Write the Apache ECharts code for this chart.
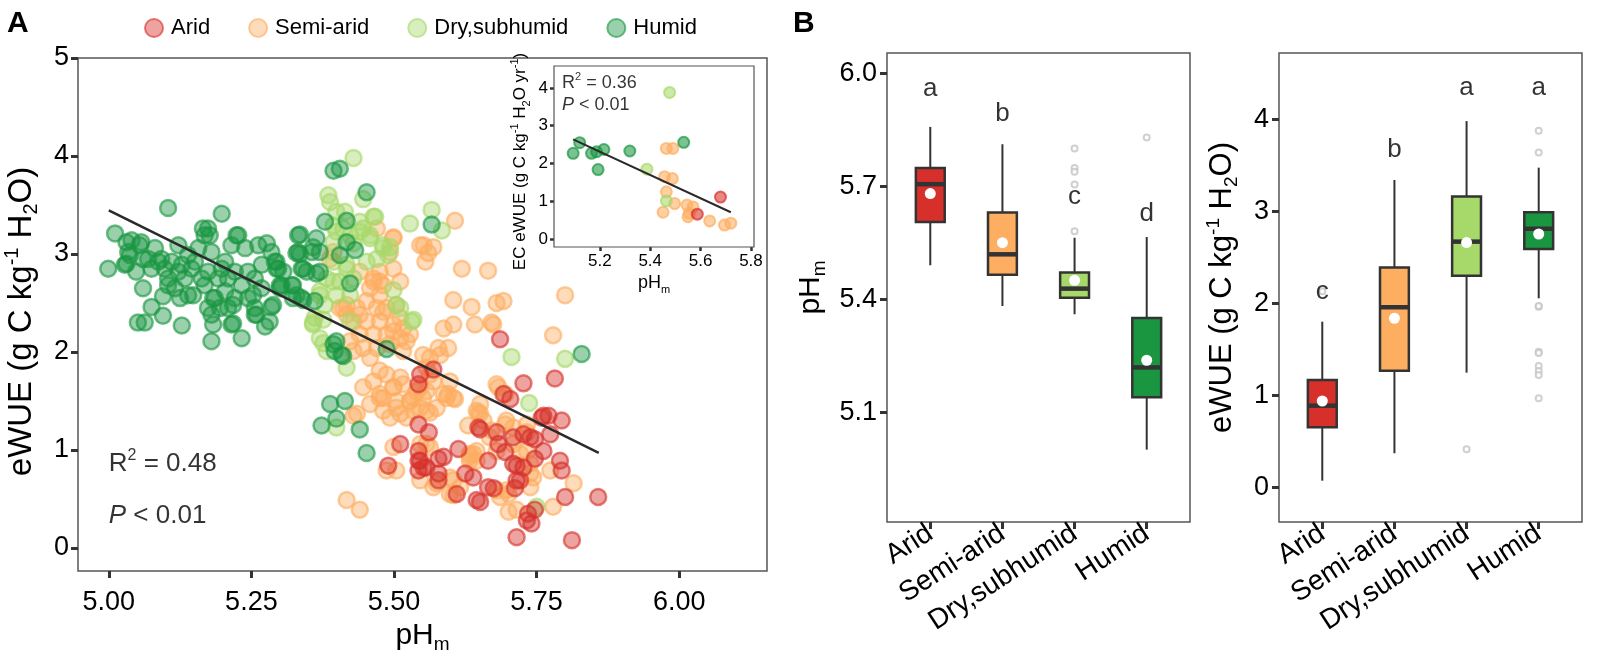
<!DOCTYPE html>
<html><head><meta charset="utf-8">
<script src="https://cdn.jsdelivr.net/npm/echarts@6/dist/echarts.min.js"></script>
<style>html,body{margin:0;padding:0;background:#fff}#c{width:1600px;height:656px}</style>
</head><body><div id="c"></div>
<script>
// ---------- DATA ----------
const groups = ['Arid', 'Semi-arid', 'Dry,subhumid', 'Humid'];
const groupColors = ['#d7302a', '#fdae61', '#a6d96a', '#1a9641'];
const groupRGB = ['215,48,42', '253,174,97', '166,217,106', '26,150,65'];

// Panel A main scatter: [pHm, eWUE]
const humidPts = [
[5.104,3.47],[5.198,3.41],[5.011,3.21],[4.999,2.85],[5.040,3.14],[5.057,3.12],[5.034,3.02],[5.031,2.90],[5.060,2.65],[5.075,2.46],[5.095,2.37],[5.051,2.30],[5.063,2.30],[5.128,2.27],[5.095,2.57],[5.081,3.06],[5.092,2.95],[5.075,2.85],[5.104,2.75],[5.116,2.65],[5.122,3.09],[5.139,2.99],[5.145,2.85],[5.139,2.58],[5.157,3.06],[5.168,3.19],[5.174,3.26],[5.180,3.02],[5.174,2.82],[5.168,2.68],[5.186,2.55],[5.174,2.45],[5.180,2.38],[5.183,2.28],[5.180,2.11],[5.204,2.62],[5.209,2.45],[5.218,2.29],[5.233,2.14],[5.215,3.09],[5.227,3.19],[5.239,3.06],[5.204,2.92],[5.221,2.82],[5.233,2.68],[5.244,2.55],[5.256,2.45],[5.256,2.38],[5.274,2.26],[5.285,2.46],[5.262,3.09],[5.277,3.11],[5.285,3.02],[5.291,2.92],[5.297,2.85],[5.268,2.89],[5.256,2.75],[5.268,2.65],[5.303,2.68],[5.321,2.68],[5.332,3.19],[5.332,3.02],[5.338,2.85],[5.338,2.55],
[5.069,2.95],[5.087,2.92],[5.098,2.85],[5.110,2.92],[5.122,2.82],[5.133,2.75],[5.104,2.68],[5.128,2.89],[5.151,2.92],[5.163,2.75],[5.192,2.75],[5.209,2.75],[5.244,2.82],[5.198,2.85],[5.221,2.55],
[5.031,3.12],[5.054,3.09],[5.037,2.99],[5.060,2.95],[5.028,2.89],[5.048,2.82],[5.165,3.26],[5.177,3.19],[5.224,3.19],[5.294,2.92],[5.306,2.82],[5.300,2.65],[5.259,2.38],[5.215,2.28],[5.125,2.55],[5.148,2.58],[5.183,2.55],[5.195,2.45],[5.218,2.48],[5.253,2.58],[5.323,2.68],
[5.335,3.20],[5.335,3.00],[5.356,3.02],[5.347,2.82],[5.364,3.16],[5.370,2.82],[5.323,2.55],[5.341,2.53],[5.361,2.52],[5.394,3.85],[5.405,3.87],[5.452,3.63],[5.379,3.33],[5.417,3.34],[5.432,3.04],[5.405,2.99],[5.417,3.12],[5.358,3.07],[5.329,3.01],[5.370,3.02],[5.341,2.85],[5.364,2.80],[5.294,2.85],[5.300,2.68],[5.288,2.48],[5.329,2.58],[5.423,2.70],[5.399,2.11],[5.408,1.97],[5.396,2.01],[5.487,2.03],[5.388,1.47],[5.414,1.50],[5.373,1.25],[5.399,1.32],[5.440,1.21],[5.452,0.97],[5.394,2.08],[5.411,1.96],[5.282,2.31],[5.566,3.30],[5.829,1.98]
];
const dryPts = [
[5.429,3.98],[5.385,3.60],[5.388,3.53],[5.446,3.56],[5.467,3.38],[5.528,3.31],[5.399,3.43],[5.394,3.29],[5.411,3.26],[5.440,3.23],[5.458,3.19],[5.481,3.09],[5.490,2.99],[5.394,2.92],[5.417,2.85],[5.499,2.63],[5.394,2.72],[5.370,2.58],[5.379,2.48],[5.361,2.35],[5.376,2.09],[5.511,2.45],[5.423,2.58],
[5.566,3.45],[5.584,3.24],[5.414,3.43],[5.464,3.38],[5.440,3.33],[5.399,3.23],[5.423,3.19],[5.446,3.26],[5.394,3.12],[5.429,3.11],[5.458,3.16],[5.481,3.06],[5.493,3.07],[5.417,2.89],[5.452,2.92],[5.470,2.95],[5.382,2.75],[5.405,2.72],[5.429,2.75],[5.399,2.58],[5.370,2.62],[5.358,2.28],[5.376,2.33],[5.370,2.14],[5.382,2.01],[5.417,1.84],[5.534,2.33],[5.504,2.48],[5.423,2.31],[5.358,2.30],[5.399,1.23],[5.531,2.31],[5.706,1.95],[5.800,1.93],[5.737,1.48],[5.750,0.42]
];
const semiPts = [
[5.607,3.34],[5.552,3.09],[5.569,3.07],[5.560,3.01],[5.555,2.92],[5.619,2.85],[5.665,2.83],[5.800,2.58],[5.604,2.53],[5.636,2.46],[5.692,2.52],[5.587,2.24],[5.604,2.28],[5.642,2.28],[5.674,2.28],[5.779,2.17],
[5.578,2.04],[5.595,2.04],[5.563,1.94],[5.680,1.67],[5.595,1.57],[5.607,1.52],[5.563,1.77],[5.546,1.64],[5.534,1.53],[5.511,1.74],[5.499,1.64],[5.481,1.53],[5.504,1.43],[5.528,1.50],[5.546,1.43],[5.563,1.38],[5.522,1.33],[5.493,1.33],[5.651,1.37],[5.630,1.25],[5.683,1.64],[5.695,1.57],[5.697,1.30],[5.709,1.23],[5.733,1.26],[5.499,1.03],[5.504,0.79],[5.557,1.06],[5.575,0.66],[5.598,0.72],[5.633,0.96],[5.645,0.99],[5.604,0.54],[5.680,0.59],[5.697,0.59],[5.701,0.37],[5.715,0.39],[5.733,0.99],[5.739,0.86],[5.744,0.72],[5.739,0.62],[5.779,0.42],[5.815,0.66],[5.774,0.79],[5.709,1.06],[5.721,0.96],[5.668,1.13],[5.680,0.99],[5.633,0.89],[5.651,1.47],[5.487,0.79],
[5.499,3.17],[5.493,3.02],[5.499,2.85],[5.470,3.26],[5.475,2.72],[5.458,2.65],[5.475,2.58],[5.680,2.50],[5.671,2.30],
[5.417,2.48],[5.435,2.45],[5.452,2.52],[5.470,2.45],[5.487,2.45],[5.504,2.48],[5.429,2.31],[5.452,2.31],[5.475,2.31],[5.499,2.28],[5.516,2.24],[5.440,2.18],[5.464,2.18],[5.487,2.18],[5.511,2.14],[5.528,2.18],[5.446,2.04],[5.470,2.04],[5.493,2.08],[5.516,2.01],[5.458,1.94],[5.429,2.01],[5.475,2.82],[5.464,2.75],[5.481,2.68],[5.417,2.38],[5.405,2.45],
[5.475,1.81],[5.487,1.77],[5.464,1.70],[5.446,1.64],[5.475,1.57],[5.499,1.64],[5.516,1.67],[5.540,1.60],[5.504,1.50],[5.528,1.50],[5.551,1.53],[5.458,1.47],[5.481,1.40],[5.511,1.37],[5.534,1.40],[5.557,1.40],[5.575,1.43],[5.587,1.57],[5.598,1.70],[5.604,1.53],[5.569,1.70],[5.435,1.37],[5.645,1.40],[5.657,1.30],[5.581,1.97],[5.551,1.97],[5.557,1.84],
[5.417,0.49],[5.440,0.39],[5.429,1.35],[5.475,1.53],[5.557,1.60],[5.598,0.55],[5.616,0.62],[5.633,0.93],
[5.592,1.53],[5.648,1.38],[5.671,1.20],[5.695,1.26],[5.733,1.18],[5.739,0.76],[5.701,0.55],[5.639,0.96],[5.645,0.89],[5.604,0.69],[5.686,0.52],[5.546,1.06],[5.563,1.03],[5.546,0.69],[5.569,0.62],
[5.499,3.16],[5.546,3.09],[5.394,3.02],[5.388,2.95],[5.440,2.82],[5.511,2.72],[5.464,2.72],[5.411,2.45],[5.440,2.38],[5.481,2.41],[5.511,2.35],[5.423,2.11],[5.499,2.21],[5.522,2.11]
];
const aridPts = [
[5.686,2.13],[5.727,1.68],[5.782,1.73],[5.692,1.57],[5.704,1.52],[5.762,1.35],[5.771,1.35],[5.794,1.30],[5.546,1.77],[5.569,1.82],[5.543,1.67],[5.543,1.26],[5.561,1.18],[5.651,1.21],[5.680,1.18],[5.683,1.06],[5.709,1.13],[5.727,1.16],[5.747,1.11],[5.695,0.98],[5.762,0.99],[5.747,0.91],[5.791,0.89],[5.794,0.79],[5.727,0.82],[5.709,0.86],[5.715,0.69],[5.511,1.06],[5.490,0.84],[5.543,0.99],[5.543,0.89],[5.552,0.82],[5.543,0.79],[5.578,0.91],[5.587,0.93],[5.578,0.76],[5.578,0.69],[5.613,1.01],[5.625,0.76],[5.639,0.72],[5.610,0.55],[5.651,0.47],[5.665,0.89],[5.665,0.62],[5.675,0.61],[5.735,0.35],[5.741,0.25],[5.715,0.11],[5.812,0.08],[5.858,0.52],[5.800,0.52],
[5.759,1.33],[5.774,1.16],[5.739,1.13],[5.715,0.84],[5.721,0.69],[5.712,0.61],[5.747,0.39],[5.733,0.28],[5.648,1.23],[5.645,0.49],[5.546,0.89],[5.557,0.82]
];
const mainFitX = [5.0, 5.859];
const mainFitY = [3.445, 0.97];
const mainXTicks = [5.0, 5.25, 5.5, 5.75, 6.0];
const mainYTicks = [0, 1, 2, 3, 4, 5];
const mainStatR2 = '0.48';
const mainStatP = '0.01';

// Inset (EC eWUE)
const insetArid = [[5.587,0.66],[5.679,1.11]];
const insetSemi = [[5.464,2.40],[5.490,2.40],[5.457,1.65],[5.488,1.60],[5.464,1.25],[5.451,0.71],[5.497,0.94],[5.546,0.90],[5.570,0.85],[5.550,0.59],[5.555,0.68],[5.636,0.48],[5.695,0.37],[5.720,0.42]];
const insetDry = [[5.477,3.88],[5.387,1.85],[5.464,1.01]];
const insetHumid = [[5.094,2.27],[5.120,2.55],[5.167,2.27],[5.187,2.31],[5.216,2.37],[5.193,1.84],[5.319,2.33],[5.533,2.56]];
const insetFitX = [5.094, 5.72];
const insetFitY = [2.64, 0.71];
const insetXTicks = [5.2, 5.4, 5.6, 5.8];
const insetYTicks = [0, 1, 2, 3, 4];
const insetStatR2 = '0.36';
const insetStatP = '0.01';

// Panel B boxplots: [whiskerLow, Q1, median, Q3, whiskerHigh, mean]
const phBoxes = [
  [5.491, 5.606, 5.706, 5.749, 5.858, 5.681],
  [5.383, 5.466, 5.520, 5.631, 5.812, 5.551],
  [5.361, 5.405, 5.429, 5.472, 5.564, 5.451],
  [5.002, 5.141, 5.220, 5.351, 5.566, 5.239]
];
const phOutlierCat = [3, 3, 3, 3, 3, 4];
const phOutlierVal = [5.801, 5.749, 5.739, 5.705, 5.581, 5.830];
const phLetters = ['a', 'b', 'c', 'd'];
const phLetterY = [5.96, 5.893, 5.672, 5.628];
const phYTicks = [5.1, 5.4, 5.7, 6.0];

const wueBoxes = [
  [0.072, 0.652, 0.887, 1.166, 1.80, 0.938],
  [0.37, 1.267, 1.957, 2.39, 3.34, 1.837],
  [1.246, 2.30, 2.67, 3.16, 3.98, 2.66],
  [2.054, 2.59, 2.81, 2.99, 3.474, 2.753]
];
const wueOutlierCat = [1, 3, 4, 4, 4, 4, 4, 4, 4, 4, 4, 4];
const wueOutlierVal = [2.13, 0.413, 3.876, 3.64, 1.963, 1.97, 1.474, 1.46, 1.318, 1.264, 1.22, 0.967];
const wueLetters = ['c', 'b', 'a', 'a'];
const wueLetterY = [2.126, 3.666, 4.337, 4.337];
const wueYTicks = [0, 1, 2, 3, 4];

// ---------- CHART ----------
const FONT = '"Liberation Sans", Arial, Helvetica, sans-serif';
const chart = echarts.init(document.getElementById('c'), null, {renderer: 'canvas'});

function rich(fs) {
  const s = Math.round(fs * 0.62);
  return {
    t: {fontSize: fs, fontFamily: FONT, color: '#000', lineHeight: fs + 6},
    it: {fontSize: fs, fontFamily: FONT, color: '#000', fontStyle: 'italic', lineHeight: fs + 6},
    sup: {fontSize: s, fontFamily: FONT, color: '#000', verticalAlign: 'top', lineHeight: s},
    sub: {fontSize: s, fontFamily: FONT, color: '#000', verticalAlign: 'bottom', lineHeight: s}
  };
}
const pts = arr => arr.map(p => [p[0], p[1]]);

function scatterMain(gi, data) {
  return {
    name: groups[gi], type: 'scatter', xAxisIndex: 0, yAxisIndex: 0,
    data: pts(data), symbolSize: 16,
    itemStyle: {color: 'rgba(' + groupRGB[gi] + ',0.55)', borderColor: 'rgba(' + groupRGB[gi] + ',0.78)', borderWidth: 2.5},
    emphasis: {disabled: true}, z: 2
  };
}
function scatterInset(gi, data) {
  return {
    name: groups[gi], type: 'scatter', xAxisIndex: 1, yAxisIndex: 1,
    data: pts(data), symbolSize: 11,
    itemStyle: {color: 'rgba(' + groupRGB[gi] + ',0.72)', borderColor: 'rgba(' + groupRGB[gi] + ',0.88)', borderWidth: 2},
    emphasis: {disabled: true}, z: 3
  };
}

function valueAxis(opts) {
  const o = {
    type: 'value', gridIndex: opts.grid, min: opts.min, max: opts.max,
    splitLine: {show: false},
    axisLine: {show: false, onZero: false},
    axisTick: {show: true, customValues: opts.ticks, length: opts.tickLen || 7, lineStyle: {width: opts.tickW || 3, color: '#333'}},
    axisLabel: {customValues: opts.ticks, formatter: opts.fmt, fontSize: opts.fs, color: '#000', fontFamily: FONT, margin: opts.margin || 8, rotate: opts.rotate || 0},
  };
  if (opts.name) {
    o.name = opts.name; o.nameLocation = 'middle'; o.nameGap = opts.nameGap;
    o.nameRotate = opts.nameRotate || 0;
    o.nameTextStyle = {rich: rich(opts.nameFs), fontFamily: FONT, padding: opts.namePad || 0};
  }
  return o;
}

function boxRenderer(params, api) {
  const x = api.value(0);
  const lo = api.value(1), q1 = api.value(2), med = api.value(3), q3 = api.value(4), hi = api.value(5), mean = api.value(6);
  const w = api.size([0.4, 0])[0];
  const pLo = api.coord([x, lo]), pHi = api.coord([x, hi]);
  const pQ1 = api.coord([x, q1]), pQ3 = api.coord([x, q3]);
  const pMed = api.coord([x, med]), pMean = api.coord([x, mean]);
  const col = groupColors[params.dataIndex];
  return {
    type: 'group',
    children: [
      {type: 'line', shape: {x1: pLo[0], y1: pLo[1], x2: pHi[0], y2: pHi[1]}, style: {stroke: '#333', lineWidth: 2}},
      {type: 'rect', shape: {x: pQ1[0] - w / 2, y: pQ3[1], width: w, height: pQ1[1] - pQ3[1]}, style: {fill: col, stroke: '#333', lineWidth: 2.5}},
      {type: 'line', shape: {x1: pMed[0] - w / 2, y1: pMed[1], x2: pMed[0] + w / 2, y2: pMed[1]}, style: {stroke: '#333', lineWidth: 4.5}},
      {type: 'circle', shape: {cx: pMean[0], cy: pMean[1], r: 5.5}, style: {fill: '#fff'}}
    ]
  };
}
function boxSeries(ax, boxes) {
  return {
    type: 'custom', xAxisIndex: ax, yAxisIndex: ax, renderItem: boxRenderer,
    data: boxes.map((b, i) => [i + 1].concat(b)),
    encode: {x: 0, y: [1, 2, 3, 4, 5]}, z: 3, silent: true
  };
}
function outlierSeries(ax, cats, vals) {
  return {
    type: 'scatter', xAxisIndex: ax, yAxisIndex: ax, symbol: 'emptyCircle', symbolSize: 6,
    data: cats.map((c, i) => [c, vals[i]]),
    itemStyle: {color: '#c4c4c4', borderColor: '#c4c4c4', borderWidth: 1.2}, z: 2, silent: true
  };
}
function letterSeries(ax, letters, ys) {
  return {
    type: 'scatter', xAxisIndex: ax, yAxisIndex: ax, symbolSize: 0, silent: true, z: 5,
    data: letters.map((l, i) => ({value: [i + 1, ys[i]], name: l})),
    label: {show: true, position: 'inside', formatter: '{b}', fontSize: 26, color: '#000', fontFamily: FONT}
  };
}
function statSeries(xi, xs, ys, texts, fs) {
  return {
    type: 'scatter', xAxisIndex: xi, yAxisIndex: xi, symbolSize: 0, silent: true, z: 6,
    data: xs.map((x, i) => ({value: [x, ys[i]], name: texts[i]})),
    label: {show: true, position: [0, 0], align: 'left', verticalAlign: 'middle', formatter: p => p.name, rich: rich(fs)}
  };
}

const catFmt = v => groups[Math.round(v) - 1] || '';
const gridBase = {show: true, borderColor: '#555', borderWidth: 1.5, containLabel: false, outerBoundsMode: 'none'};

const option = {
  animation: false,
  backgroundColor: '#fff',
  textStyle: {fontFamily: FONT},
  legend: {
    data: groups, left: 139, top: 12, itemWidth: 18, itemHeight: 18, itemGap: 38, icon: 'circle',
    textStyle: {fontSize: 22, color: '#000', fontFamily: FONT, padding: [0, 0, 0, 3]}
  },
  graphic: [
    {type: 'text', left: 7, top: 9, style: {text: 'A', font: 'bold 30px ' + FONT, fill: '#000'}},
    {type: 'text', left: 793, top: 9, style: {text: 'B', font: 'bold 30px ' + FONT, fill: '#000'}}
  ],
  grid: [
    Object.assign({}, gridBase, {left: 78, top: 58, width: 689, height: 513, backgroundColor: 'transparent'}),
    Object.assign({}, gridBase, {left: 554, top: 66, width: 200, height: 181, borderWidth: 1.2, backgroundColor: '#fff', z: 1}),
    Object.assign({}, gridBase, {left: 887, top: 53, width: 303, height: 469}),
    Object.assign({}, gridBase, {left: 1279, top: 53, width: 303, height: 469})
  ],
  xAxis: [
    valueAxis({grid: 0, min: 4.946, max: 6.154, ticks: mainXTicks, fmt: v => v.toFixed(2), fs: 27, margin: 18,
      name: '{t|pH}{sub|m}', nameGap: 46, nameFs: 30}),
    valueAxis({grid: 1, min: 5.018, max: 5.812, ticks: insetXTicks, fmt: v => v.toFixed(1), fs: 17, tickLen: 4, tickW: 2.5, margin: 6,
      name: '{t|pH}{sub|m}', nameGap: 24, nameFs: 18}),
    valueAxis({grid: 2, min: 0.4, max: 4.6, ticks: [1, 2, 3, 4], fmt: catFmt, fs: 28, rotate: 33, margin: 9}),
    valueAxis({grid: 3, min: 0.4, max: 4.6, ticks: [1, 2, 3, 4], fmt: catFmt, fs: 28, rotate: 33, margin: 9})
  ],
  yAxis: [
    valueAxis({grid: 0, min: -0.235, max: 5.0, ticks: mainYTicks, fmt: v => String(v), fs: 27, margin: 9,
      name: '{t|eWUE (g C kg}{sup|-1}{t| H}{sub|2}{t|O)}', nameGap: 37, nameRotate: 90, nameFs: 33, namePad: [0, 14, 0, 0]}),
    valueAxis({grid: 1, min: -0.21, max: 4.58, ticks: insetYTicks, fmt: v => String(v), fs: 17, tickLen: 4, tickW: 2.5, margin: 6,
      name: '{t|EC eWUE (g C kg}{sup|-1}{t| H}{sub|2}{t|O yr}{sup|-1}{t|)}', nameGap: 22, nameRotate: 90, nameFs: 17, namePad: [0, 10, 0, 0]}),
    valueAxis({grid: 2, min: 4.81, max: 6.054, ticks: phYTicks, fmt: v => v.toFixed(1), fs: 27, margin: 10,
      name: '{t|pH}{sub|m}', nameGap: 58, nameRotate: 90, nameFs: 30}),
    valueAxis({grid: 3, min: -0.377, max: 4.72, ticks: wueYTicks, fmt: v => String(v), fs: 27, margin: 10,
      name: '{t|eWUE (g C kg}{sup|-1}{t| H}{sub|2}{t|O)}', nameGap: 38, nameRotate: 90, nameFs: 31})
  ],
  series: [
    scatterMain(1, semiPts),
    scatterMain(2, dryPts),
    scatterMain(3, humidPts),
    scatterMain(0, aridPts),
    {type: 'line', xAxisIndex: 0, yAxisIndex: 0, data: mainFitX.map((x, i) => [x, mainFitY[i]]), symbol: 'none',
      lineStyle: {color: '#2a2a2a', width: 2.6}, z: 4, silent: true},
    statSeries(0, [5.0, 5.0], [0.86, 0.33], ['{t|R}{sup|2}{t| = ' + mainStatR2 + '}', '{it|P}{t| < ' + mainStatP + '}'], 26),
    scatterInset(1, insetSemi),
    scatterInset(2, insetDry),
    scatterInset(3, insetHumid),
    scatterInset(0, insetArid),
    {type: 'line', xAxisIndex: 1, yAxisIndex: 1, data: insetFitX.map((x, i) => [x, insetFitY[i]]), symbol: 'none',
      lineStyle: {color: '#2a2a2a', width: 2}, z: 4, silent: true},
    statSeries(1, [5.05, 5.05], [4.13, 3.54], ['{t|R}{sup|2}{t| = ' + insetStatR2 + '}', '{it|P}{t| < ' + insetStatP + '}'], 18),
    boxSeries(2, phBoxes),
    outlierSeries(2, phOutlierCat, phOutlierVal),
    letterSeries(2, phLetters, phLetterY),
    boxSeries(3, wueBoxes),
    outlierSeries(3, wueOutlierCat, wueOutlierVal),
    letterSeries(3, wueLetters, wueLetterY)
  ]
};
chart.setOption(option);
</script>
</body></html>
